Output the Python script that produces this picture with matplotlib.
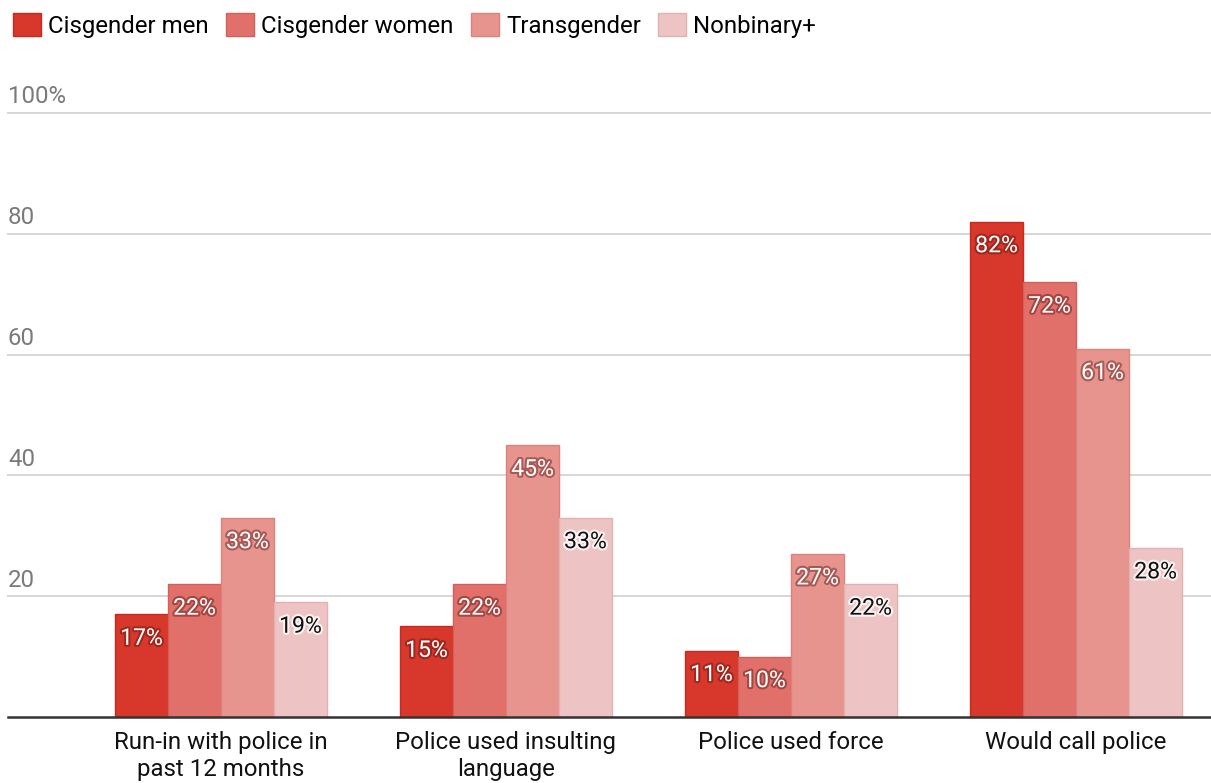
import numpy as np
import matplotlib
matplotlib.use("Agg")
import matplotlib.pyplot as plt
import matplotlib.patheffects as pe
from matplotlib.patches import Patch

plt.rcParams["font.family"] = ["Roboto", "DejaVu Sans"]

CATEGORIES = [
    "Run-in with police in\npast 12 months",
    "Police used insulting\nlanguage",
    "Police used force",
    "Would call police",
]
GROUPS = ["Cisgender men", "Cisgender women", "Transgender", "Nonbinary+"]
CIS_MEN = [17, 15, 11, 82]
CIS_WOMEN = [22, 22, 10, 72]
TRANSGENDER = [33, 45, 27, 61]
NONBINARY = [19, 33, 22, 28]
Y_TICKS = [20, 40, 60, 80, 100]

COLORS = ["#d8372b", "#e2706a", "#e8948e", "#edc4c3"]
EDGES = ["#c42a1f", "#d35f59", "#dc817b", "#e3b2b0"]

FS = 17.3


def main():
    series = [CIS_MEN, CIS_WOMEN, TRANSGENDER, NONBINARY]

    fig = plt.figure(figsize=(12.11, 7.83), dpi=100)
    ax = fig.add_axes([0.0066, 0.0843, 0.9934, 0.7714])

    x = np.arange(len(CATEGORIES))
    width = 0.186

    for i, (vals, name) in enumerate(zip(series, GROUPS)):
        pos = x + (i - 1.5) * width
        bars = ax.bar(pos, vals, width, color=COLORS[i], edgecolor=EDGES[i],
                      linewidth=1.0, label=name, zorder=3)
        for b, v in zip(bars, vals):
            if i == 3:
                color = "#111111"
                effects = [pe.withStroke(linewidth=3, foreground="white", alpha=0.8)]
            else:
                color = "white"
                effects = [pe.withStroke(linewidth=3, foreground="#5a1410", alpha=0.45)]
            ax.annotate(f"{v}%", (b.get_x() + b.get_width() / 2, v),
                        xytext=(0, -24), textcoords="offset pixels",
                        ha="center", va="center", fontsize=16.6,
                        color=color, path_effects=effects, zorder=4)

    ax.set_xlim(-0.747, 3.474)
    ax.set_ylim(0, 100)

    for t in Y_TICKS:
        ax.axhline(t, color="#d6d6d6", linewidth=1.4, zorder=1, clip_on=False)
        label = f"{t}%" if t == 100 else f"{t}"
        ax.annotate(label, (0, t), xycoords=("axes fraction", "data"),
                    xytext=(0, 16), textcoords="offset pixels",
                    ha="left", va="center", fontsize=FS, color="#7a7a7a")
    ax.axhline(0, color="#333333", linewidth=1.8, zorder=5, clip_on=False)

    ax.set_xticks(x)
    ax.set_xticklabels(CATEGORIES, fontsize=FS, color="#111111", linespacing=1.25)
    ax.tick_params(axis="x", length=0, pad=10)
    ax.set_yticks([])
    for s in ax.spines.values():
        s.set_visible(False)

    handles = [Patch(facecolor=COLORS[i], edgecolor=EDGES[i], linewidth=1.0)
               for i in range(len(GROUPS))]
    fig.legend(handles, GROUPS, loc="upper left", bbox_to_anchor=(0.0, 1.0),
               ncol=4, frameon=False, fontsize=FS, handlelength=1.17,
               handleheight=1.08, handletextpad=0.29, columnspacing=0.72,
               borderaxespad=0.35, borderpad=0.2)

    fig.savefig("out.png", dpi=100, facecolor="white")
    plt.close(fig)


if __name__ == "__main__":
    main()
